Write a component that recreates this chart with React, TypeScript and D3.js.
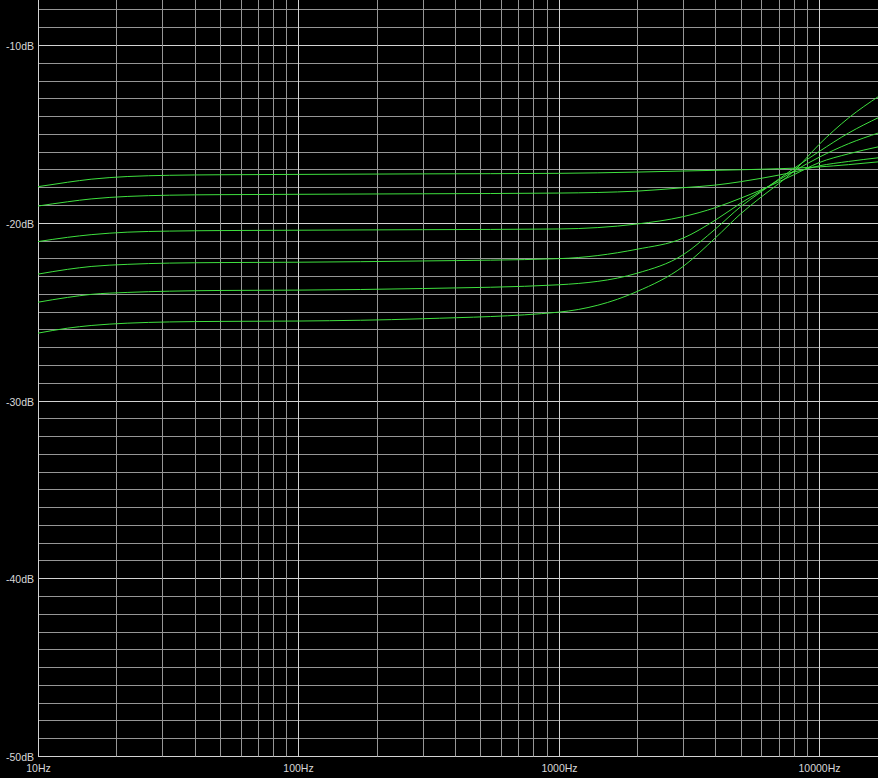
import React from "react";
import * as d3 from "d3";

const W = 878;
const H = 778;

// frequencies (Hz) at which the curves were read
const freqs = [10, 13, 16, 22, 32, 50, 100, 300, 1000, 2000, 3000, 4000, 5000, 6000, 7000, 8000, 10000, 13000, 17000];

// magnitude responses (dB), one per curve
const curveA = [-17.97, -17.72, -17.55, -17.4, -17.33, -17.3, -17.28, -17.25, -17.22, -17.15, -17.09, -17.05, -17.02, -16.99, -16.96, -16.93, -16.86, -16.73, -16.57];
const curveB = [-19.06, -18.82, -18.66, -18.52, -18.45, -18.42, -18.4, -18.37, -18.33, -18.22, -18.03, -17.88, -17.69, -17.5, -17.32, -17.15, -16.8, -16.55, -16.34];
const curveC = [-21.06, -20.82, -20.67, -20.53, -20.47, -20.44, -20.42, -20.39, -20.35, -20.07, -19.66, -19.15, -18.62, -18.15, -17.7, -17.3, -16.62, -16.12, -15.72];
const curveD = [-22.89, -22.62, -22.46, -22.34, -22.27, -22.24, -22.22, -22.15, -22.02, -21.49, -20.87, -19.85, -18.9, -18.2, -17.6, -17.1, -16.32, -15.55, -14.94];
const curveE = [-24.47, -24.2, -24.03, -23.92, -23.85, -23.81, -23.79, -23.7, -23.49, -22.84, -21.81, -20.35, -19.1, -18.25, -17.55, -16.95, -16.0, -14.95, -14.07];
const curveF = [-26.21, -25.93, -25.78, -25.65, -25.58, -25.55, -25.53, -25.4, -25.03, -23.87, -22.47, -20.85, -19.5, -18.55, -17.8, -17.1, -15.6, -14.1, -12.88];
const series = [curveA, curveB, curveC, curveD, curveE, curveF];

// axis ticks
const yLabelTicks = [-10, -20, -30, -40, -50];
const xLabelTicks = [10, 100, 1000, 10000];
const xLabelText = ["10Hz", "100Hz", "1000Hz", "10000Hz"];

export default function App() {
  const x = d3.scaleLog().domain([10, 10000]).range([38, 819]);
  const y = d3.scaleLinear().domain([-50, -10]).range([756, 45]);
  const px = (v: number) => Math.round(v) + 0.5;

  const plotLeft = x(10);
  const plotBottom = y(-50);

  const yGrid = d3.range(-50, -7, 1).filter((d) => y(d) >= 0);
  const xGrid: number[] = [];
  for (let dec = 10; dec <= 10000; dec *= 10) {
    for (let m = 1; m <= 9; m++) {
      const f = dec * m;
      if (x(f) <= W) xGrid.push(f);
    }
  }

  const line = d3
    .line<number>()
    .x((_, i) => x(freqs[i]))
    .y((d) => y(d))
    .curve(d3.curveMonotoneX);

  const font = "'Liberation Sans', Arial, sans-serif";

  return (
    <svg
      width={W}
      height={H}
      style={{ position: "fixed", left: 0, top: 0, background: "#000", display: "block" }}
    >
      <rect x={0} y={0} width={W} height={H} fill="#000" />
      <defs>
        <clipPath id="plot">
          <rect x={plotLeft} y={0} width={W - plotLeft} height={plotBottom} />
        </clipPath>
      </defs>
      {yGrid.map((d) => (
        <line
          key={"y" + d}
          x1={plotLeft}
          x2={W}
          y1={px(y(d))}
          y2={px(y(d))}
          stroke={d % 10 === 0 ? "#d2d2d2" : "#969696"}
          strokeWidth={1}
        />
      ))}
      {xGrid.map((f) => {
        const major = Math.abs(Math.log10(f) - Math.round(Math.log10(f))) < 1e-9;
        return (
          <line
            key={"x" + f}
            x1={px(x(f))}
            x2={px(x(f))}
            y1={0}
            y2={px(plotBottom)}
            stroke={major ? "#d2d2d2" : "#969696"}
            strokeWidth={1}
          />
        );
      })}
      <g clipPath="url(#plot)">
        {series.map((s, i) => (
          <path key={i} d={line(s) || ""} fill="none" stroke="#3fe03f" strokeWidth={1} />
        ))}
      </g>
      {yLabelTicks.map((d) => (
        <text
          key={"yl" + d}
          x={34}
          y={px(y(d)) + 4}
          textAnchor="end"
          fontFamily={font}
          fontSize={10.5}
          fill="#d8d8d8"
        >
          {d}dB
        </text>
      ))}
      {xLabelTicks.map((f, i) => (
        <text
          key={"xl" + f}
          x={px(x(f))}
          y={772}
          textAnchor="middle"
          fontFamily={font}
          fontSize={10.5}
          fill="#d8d8d8"
        >
          {xLabelText[i]}
        </text>
      ))}
    </svg>
  );
}
